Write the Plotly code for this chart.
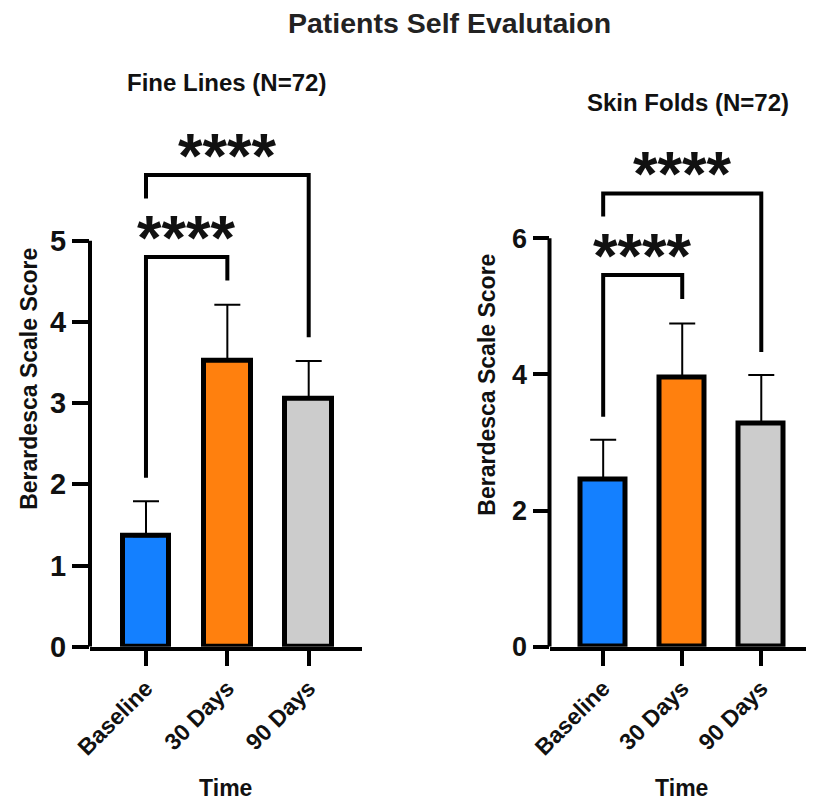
import plotly.graph_objects as go

# ---------------- data ----------------
categories = ["Baseline", "30 Days", "90 Days"]
bar_colors = ["#1480FF", "#FF800E", "#CCCCCC"]

fine_mean = [1.36, 3.52, 3.05]
fine_sd = [0.43, 0.69, 0.47]
skin_mean = [2.46, 3.96, 3.28]
skin_sd = [0.58, 0.79, 0.71]

fine_ticks = [0, 1, 2, 3, 4, 5]
skin_ticks = [0, 2, 4, 6]

# significance brackets: (from idx, to idx, bracket level, left leg end, right leg end, label)
fine_brackets = [(0, 1, 4.80, 2.08, 4.51, "****"), (0, 2, 5.81, 5.52, 3.81, "****")]
skin_brackets = [(0, 1, 5.46, 3.38, 5.11, "****"), (0, 2, 6.66, 6.32, 4.33, "****")]

FONT = "Liberation Sans, Arial, Helvetica, sans-serif"
INK = "#111111"
PAGE_OFF = 8            # default body margin of the html page
W, H = 814 - PAGE_OFF, 803 - PAGE_OFF


def fx(px):
    return (px - PAGE_OFF) / W


def fy(py):
    return 1 - (py - PAGE_OFF) / H


fig = go.Figure()


def add_panel(means, sds, brackets, xa, ya):
    fig.add_trace(go.Bar(
        x=categories, y=means, xaxis=xa, yaxis=ya,
        width=0.573,
        marker=dict(color=bar_colors, line=dict(color="black", width=5)),
        error_y=dict(type="data", symmetric=False, array=sds,
                     arrayminus=[0] * len(sds), color="black",
                     thickness=2, width=13),
        showlegend=False, hoverinfo="skip",
    ))
    for i0, i1, lvl, lend, rend, lab in brackets:
        fig.add_trace(go.Scatter(
            x=[categories[i0], categories[i0], categories[i1], categories[i1]],
            y=[lend, lvl, lvl, rend], xaxis=xa, yaxis=ya,
            mode="lines", line=dict(color="black", width=4),
            showlegend=False, hoverinfo="skip",
        ))
        fig.add_annotation(
            x=(i0 + i1) / 2, y=lvl, xref=xa, yref=ya, text=lab,
            showarrow=False, xanchor="center", yanchor="middle", yshift=20,
            font=dict(family=FONT, size=63, color=INK, weight="bold"),
        )


add_panel(fine_mean, fine_sd, fine_brackets, "x", "y")
add_panel(skin_mean, skin_sd, skin_brackets, "x2", "y2")

axis_common = dict(showgrid=False, zeroline=False, ticks="outside",
                   tickcolor="black", tickwidth=4, automargin=False)
lab_font = dict(family=FONT, size=23, color=INK, weight="bold")
sub_font = dict(family=FONT, size=24, color=INK, weight="bold")

fig.update_layout(
    width=W, height=H, margin=dict(l=0, r=0, t=0, b=0),
    paper_bgcolor="white", plot_bgcolor="white", showlegend=False,
    bargap=0,
    xaxis=dict(domain=[fx(90), fx(361.5)], type="category", range=[-0.688, 2.649],
               showline=True, linecolor="black", linewidth=4, ticklen=15,
               tickangle=-45, tickfont=lab_font,
               title=dict(text="Time", standoff=22, font=lab_font),
               anchor="y", **axis_common),
    yaxis=dict(domain=[fy(646.7), fy(110.8)], range=[0, 6.6],
               tickvals=fine_ticks, showline=False, ticklen=17,
               tickfont=dict(family=FONT, size=29, color=INK, weight="bold"),
               title=dict(text="Berardesca Scale Score", standoff=6, font=lab_font),
               anchor="x", **axis_common),
    xaxis2=dict(domain=[fx(549.5), 1.0], type="category", range=[-0.679, 2.569 + PAGE_OFF / 81.75],
                showline=True, linecolor="black", linewidth=4, ticklen=15,
                tickangle=-45, tickfont=lab_font,
                title=dict(text="Time", standoff=22, font=lab_font),
                anchor="y2", **axis_common),
    yaxis2=dict(domain=[fy(646.7), fy(122.6)], range=[0, 7.7],
                tickvals=skin_ticks, showline=False, ticklen=16,
                tickfont=dict(family=FONT, size=27, color=INK, weight="bold"),
                title=dict(text="Berardesca Scale Score", standoff=10, font=lab_font),
                anchor="x2", **axis_common),
)

# y axis lines only up to the top tick
fig.add_shape(type="line", xref="x domain", yref="y", x0=0, x1=0,
              y0=fine_ticks[0], y1=fine_ticks[-1], line=dict(color="black", width=4))
fig.add_shape(type="line", xref="x2 domain", yref="y2", x0=0, x1=0,
              y0=skin_ticks[0], y1=skin_ticks[-1], line=dict(color="black", width=4))

# titles
fig.add_annotation(x=fx(449), y=fy(23), xref="paper", yref="paper",
                   text="Patients Self Evalutaion", showarrow=False,
                   xanchor="center", yanchor="middle",
                   font=dict(family=FONT, size=28.5, color="#222222", weight="bold"))
fig.add_annotation(x=fx(226), y=fy(83), xref="paper", yref="paper",
                   text="Fine Lines (N=72)", showarrow=False,
                   xanchor="center", yanchor="middle", font=sub_font)
fig.add_annotation(x=fx(687.5), y=fy(103), xref="paper", yref="paper",
                   text="Skin Folds (N=72)", showarrow=False,
                   xanchor="center", yanchor="middle", font=sub_font)

fig.write_html("out.html")
